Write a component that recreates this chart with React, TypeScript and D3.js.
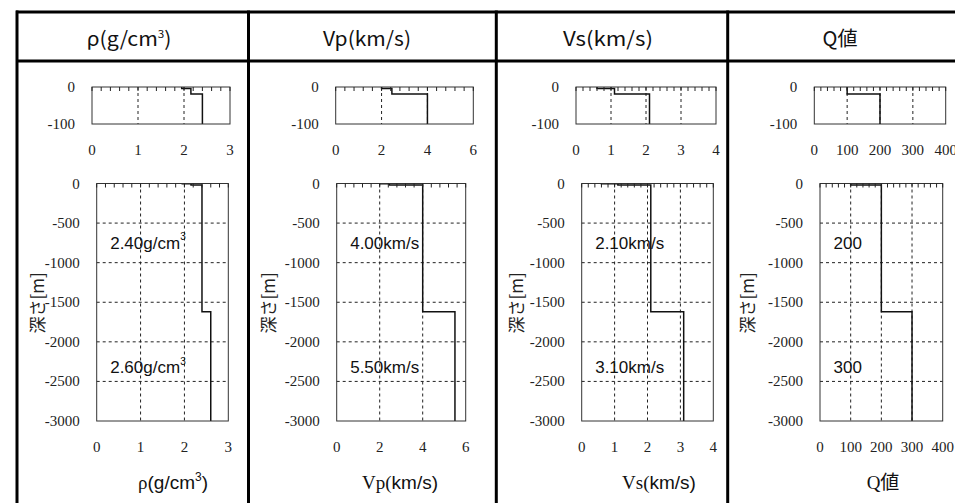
import React from 'react';
import * as d3 from 'd3';

// ---- data ----
const depthBounds = [0, 4, 19, 1620, 3000];
const rhoValues = [1.95, 2.15, 2.4, 2.6];
const vpValues = [2.0, 2.45, 4.0, 5.5];
const vsValues = [0.6, 1.1, 2.1, 3.1];
const qValues = [100, 100, 200, 300];

const bigDepthTicks = [0, -500, -1000, -1500, -2000, -2500, -3000];
const smallDepthTicks = [0, -100];

const rhoTicks = [0, 1, 2, 3];
const vpTicks = [0, 2, 4, 6];
const vsTicks = [0, 1, 2, 3, 4];
const qTicks = [0, 100, 200, 300, 400];

const rhoLabels = ['2.40g/cm', '2.60g/cm'];
const vpLabels = ['4.00km/s', '5.50km/s'];
const vsLabels = ['2.10km/s', '3.10km/s'];
const qLabels = ['200', '300'];

const headers = ['ρ(g/cm3)', 'Vp(km/s)', 'Vs(km/s)', 'Q値'];
const depthTitle = '深さ[m]';

// ---- layout ----
const SERIF = '"Liberation Serif", "Times New Roman", serif';
const SANS = '"Liberation Sans", Arial, sans-serif';
const CJK = '"Noto Sans CJK JP", sans-serif';

const panels = [
  {
    key: 'rho', values: rhoValues, ticks: rhoTicks, minor: 0.2, labels: rhoLabels, sup: true,
    colLeft: 17, bigX: [96.7, 228.3], smallX: [92, 230],
    headerX: 129, headerW: 85, titleX: 173,
  },
  {
    key: 'vp', values: vpValues, ticks: vpTicks, minor: 0.4, labels: vpLabels, sup: false,
    colLeft: 248.5, bigX: [336.7, 465.7], smallX: [335.7, 473.3],
    headerX: 367, headerW: 88, titleX: 400,
  },
  {
    key: 'vs', values: vsValues, ticks: vsTicks, minor: 0.2, labels: vsLabels, sup: false,
    colLeft: 496.3, bigX: [581.7, 713.3], smallX: [576, 716],
    headerX: 608, headerW: 90, titleX: 659,
  },
  {
    key: 'q', values: qValues, ticks: qTicks, minor: 20, labels: qLabels, sup: false,
    colLeft: 727.7, bigX: [820, 942.7], smallX: [814.3, 945.7],
    headerX: 840, headerW: 35, titleX: 883,
  },
];

const bigY = [183.5, 421];
const smallY = [87, 124];
const labelDepths = [-752, -2330];

function stepPoints(values: number[]): [number, number][] {
  const pts: [number, number][] = [];
  values.forEach((v, i) => {
    pts.push([v, -depthBounds[i]]);
    pts.push([v, -depthBounds[i + 1]]);
  });
  return pts;
}

function Plot({ p, xr, yr, yTicks, big, id }: any) {
  const dom = [p.ticks[0], p.ticks[p.ticks.length - 1]];
  const x = d3.scaleLinear().domain(dom).range(xr);
  const y = d3.scaleLinear().domain([yTicks[0], yTicks[yTicks.length - 1]]).range(yr);
  const line = d3.line<[number, number]>().x((d) => x(d[0])).y((d) => y(d[1]));
  const minors = d3.range(dom[0], dom[1] + p.minor / 2, p.minor);
  const top = yr[0];
  const bottom = yr[1];
  const left = xr[0];
  const right = xr[1];
  const xLabelY = big ? 447 : 149.5;
  return (
    <g>
      <defs>
        <clipPath id={id}>
          <rect x={left} y={top} width={right - left} height={bottom - top} />
        </clipPath>
      </defs>
      <rect x={left} y={top} width={right - left} height={bottom - top} fill="#fff" />
      {p.ticks.slice(1, -1).map((t: number) => (
        <line key={'vg' + t} x1={x(t)} x2={x(t)} y1={top} y2={bottom}
          stroke="#222" strokeWidth={1} strokeDasharray="3,3" />
      ))}
      {yTicks.slice(1, -1).map((t: number) => (
        <line key={'hg' + t} x1={left} x2={right} y1={y(t)} y2={y(t)}
          stroke="#222" strokeWidth={1} strokeDasharray="3,3" />
      ))}
      <path d={line(stepPoints(p.values)) || ''} fill="none" stroke="#111"
        strokeWidth={1.5} clipPath={`url(#${id})`} />
      <rect x={left} y={top} width={right - left} height={bottom - top}
        fill="none" stroke="#333" strokeWidth={1} />
      {minors.map((t: number, i: number) => (
        <line key={'mt' + i} x1={x(t)} x2={x(t)} y1={top} y2={top + 4}
          stroke="#222" strokeWidth={1} />
      ))}
      {yTicks.map((t: number) => (
        <text key={'yl' + t} x={left - 17} y={y(t)} textAnchor="end" dominantBaseline="central"
          fontFamily={SERIF} fontSize={15} fill="#222">{t}</text>
      ))}
      {p.ticks.map((t: number) => (
        <text key={'xl' + t} x={x(t)} y={xLabelY} textAnchor="middle" dominantBaseline="central"
          fontFamily={SERIF} fontSize={15} fill="#222">{t}</text>
      ))}
      {big && p.labels.map((s: string, i: number) => (
        <text key={'an' + i} x={left + 13.5} y={y(labelDepths[i])} dominantBaseline="central"
          fontFamily={SANS} fontSize={17} fill="#111">
          {s}
          {p.sup && <tspan fontSize={10} dy={-7}>3</tspan>}
        </text>
      ))}
    </g>
  );
}

function AxisTitle({ i, x }: any) {
  const common = { y: 489, fontSize: 19, fill: '#111', textAnchor: 'middle' as const };
  if (i === 0) {
    return (
      <text x={x} {...common}>
        <tspan fontFamily={SERIF}>ρ</tspan>
        <tspan fontFamily={SANS}>(g/cm</tspan>
        <tspan fontFamily={SANS} fontSize={12} dy={-8}>3</tspan>
        <tspan fontFamily={SANS} dy={8}>)</tspan>
      </text>
    );
  }
  if (i === 1 || i === 2) {
    const h = headers[i];
    return (
      <text x={x} {...common}>
        <tspan fontFamily={SERIF}>{h.slice(0, 3)}</tspan>
        <tspan fontFamily={SANS}>{h.slice(3)}</tspan>
      </text>
    );
  }
  return (
    <text x={x} {...common}>
      <tspan fontFamily={SERIF}>Q</tspan>
      <tspan fontFamily={CJK}>値</tspan>
    </text>
  );
}

function Header({ i, x, w }: any) {
  const common = { x: x - w / 2, y: 46, fontSize: 20, fill: '#111', fontFamily: CJK,
    textLength: w, lengthAdjust: 'spacingAndGlyphs' };
  if (i === 0) {
    return (
      <text {...common}>
        ρ(g/cm<tspan fontSize={11} dy={-8}>3</tspan><tspan dy={8}>)</tspan>
      </text>
    );
  }
  return <text {...common}>{headers[i]}</text>;
}

export default function App() {
  const colLines = [17, 248.5, 496.3, 727.7];
  return (
    <svg width={955} height={503} style={{ position: 'absolute', left: 0, top: 0, background: '#fff' }}>
      <rect x={0} y={0} width={955} height={503} fill="#fff" />
      {panels.map((p, i) => (
        <g key={p.key}>
          <Header i={i} x={p.headerX} w={p.headerW} />
          <Plot p={p} xr={p.smallX} yr={smallY} yTicks={smallDepthTicks} big={false} id={'cs' + i} />
          <Plot p={p} xr={p.bigX} yr={bigY} yTicks={bigDepthTicks} big={true} id={'cb' + i} />
          <text transform={`translate(${p.colLeft + 19},303) rotate(-90)`} textAnchor="middle"
            dominantBaseline="central" fontFamily={CJK} fontSize={17} fill="#222">{depthTitle}</text>
          <AxisTitle i={i} x={p.titleX} />
        </g>
      ))}
      <line x1={16} x2={955} y1={12} y2={12} stroke="#000" strokeWidth={3} />
      <line x1={16} x2={955} y1={61} y2={61} stroke="#000" strokeWidth={3} />
      {colLines.map((cx) => (
        <line key={cx} x1={cx} x2={cx} y1={10.5} y2={503} stroke="#000" strokeWidth={3} />
      ))}
    </svg>
  );
}
